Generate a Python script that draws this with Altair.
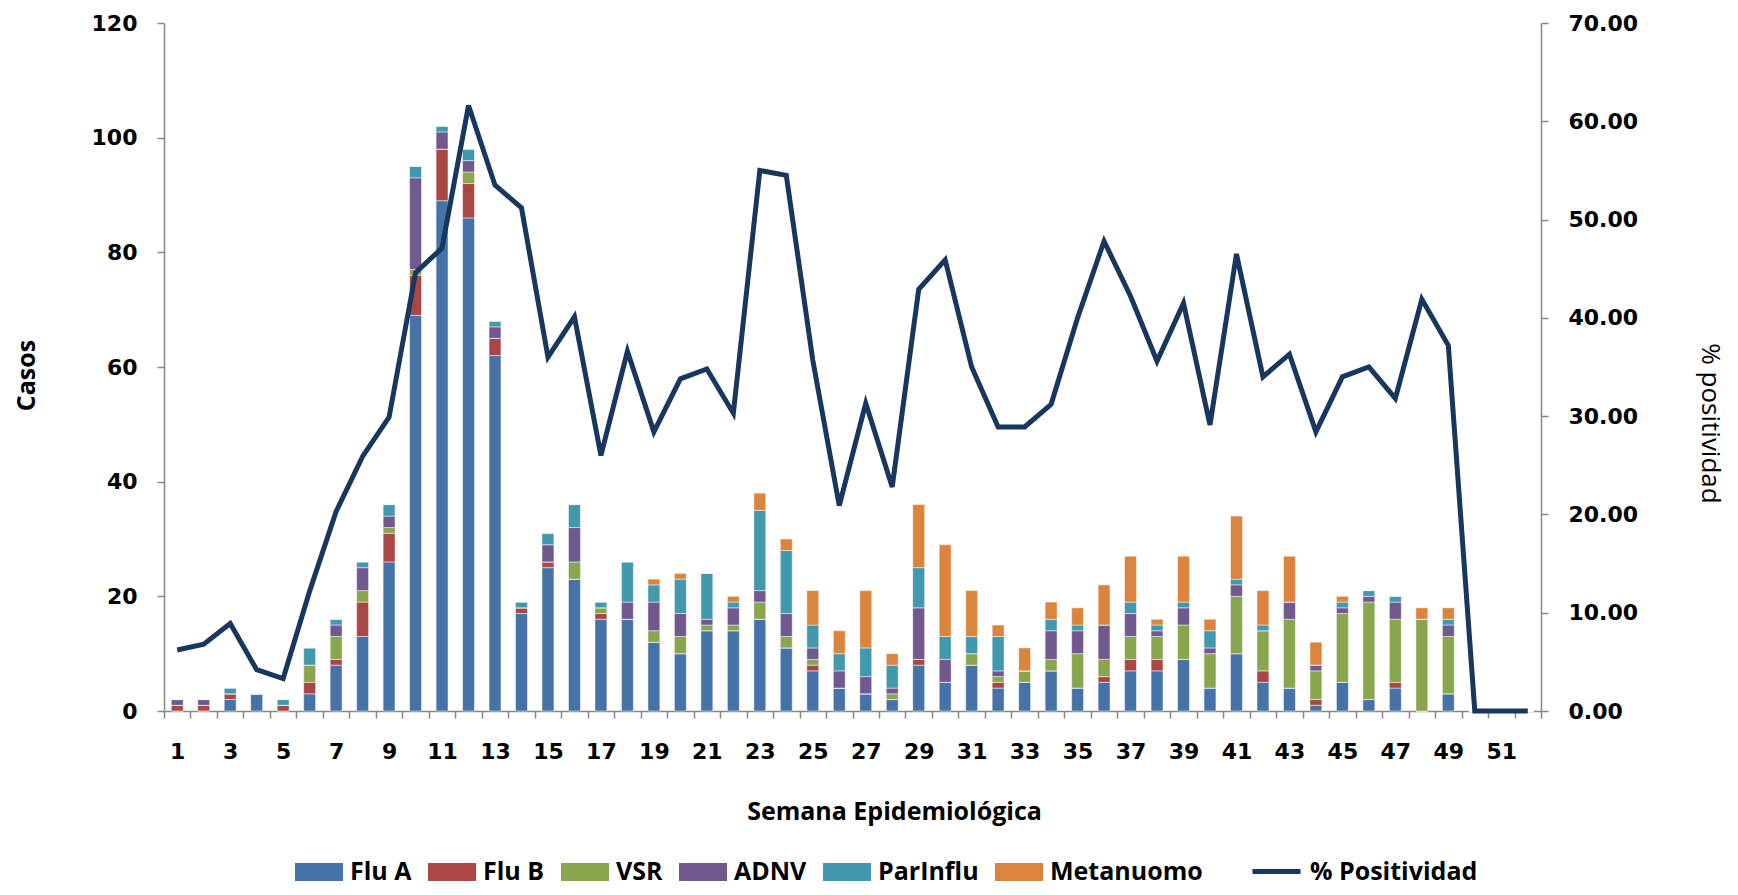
import altair as alt
import pandas as pd

weeks = list(range(1, 53))

flu_a = [0, 0, 2, 3, 0, 3, 8, 13, 26, 69, 89, 86, 62, 17, 25, 23, 16, 16, 12, 10,
         14, 14, 16, 11, 7, 4, 3, 2, 8, 5, 8, 4, 5, 7, 4, 5, 7, 7, 9, 4,
         10, 5, 4, 1, 5, 2, 4, 0, 3, 0, 0, 0]
flu_b = [1, 1, 1, 0, 1, 2, 1, 6, 5, 7, 9, 6, 3, 1, 1, 0, 1, 0, 0, 0,
         0, 0, 0, 0, 1, 0, 0, 0, 1, 0, 0, 1, 0, 0, 0, 1, 2, 2, 0, 0,
         0, 2, 0, 1, 0, 0, 1, 0, 0, 0, 0, 0]
vsr = [0, 0, 0, 0, 0, 3, 4, 2, 1, 1, 0, 2, 0, 0, 0, 3, 1, 0, 2, 3,
       1, 1, 3, 2, 1, 0, 0, 1, 0, 0, 2, 1, 2, 2, 6, 3, 4, 4, 6, 6,
       10, 7, 12, 5, 12, 17, 11, 16, 10, 0, 0, 0]
adnv = [1, 1, 0, 0, 0, 0, 2, 4, 2, 16, 3, 2, 2, 0, 3, 6, 0, 3, 5, 4,
        1, 3, 2, 4, 2, 3, 3, 1, 9, 4, 0, 1, 0, 5, 4, 6, 4, 1, 3, 1,
        2, 0, 3, 1, 1, 1, 3, 0, 2, 0, 0, 0]
parinflu = [0, 0, 1, 0, 1, 3, 1, 1, 2, 2, 1, 2, 1, 1, 2, 4, 1, 7, 3, 6,
            8, 1, 14, 11, 4, 3, 5, 4, 7, 4, 3, 6, 0, 2, 1, 0, 2, 1, 1, 3,
            1, 1, 0, 0, 1, 1, 1, 0, 1, 0, 0, 0]
metanuomo = [0, 0, 0, 0, 0, 0, 0, 0, 0, 0, 0, 0, 0, 0, 0, 0, 0, 0, 1, 1,
             0, 1, 3, 2, 6, 4, 10, 2, 11, 16, 8, 2, 4, 3, 3, 7, 8, 1, 8, 2,
             11, 6, 8, 4, 1, 0, 0, 2, 2, 0, 0, 0]
positividad = [6.2, 6.8, 8.9, 4.2, 3.3, 12.2, 20.3, 25.9, 29.9, 44.6,
               47.1, 61.6, 53.5, 51.2, 36.0, 40.1, 26.0, 36.6, 28.4, 33.8,
               34.8, 30.3, 55.0, 54.5, 35.7, 20.9, 31.3, 22.8, 42.9, 45.9,
               35.0, 28.9, 28.9, 31.2, 40.0, 47.8, 42.2, 35.6, 41.5, 29.1,
               46.5, 34.0, 36.3, 28.4, 34.0, 35.0, 31.8, 41.9, 37.2, 0.0,
               0.0, 0.0]

series_names = ["Flu A", "Flu B", "VSR", "ADNV", "ParInflu", "Metanuomo"]
series_colors = ["#4572A7", "#AA4643", "#89A54E", "#71588F", "#4198AF", "#DB843D"]
line_name = "% Positividad"
line_color = "#17375E"

rows = []
for order, (name, vals) in enumerate(zip(series_names, [flu_a, flu_b, vsr, adnv, parinflu, metanuomo])):
    for w, v in zip(weeks, vals):
        rows.append({"semana": w, "virus": name, "orden": order, "casos": v})
bars_df = pd.DataFrame(rows)
line_df = pd.DataFrame({"semana": weeks, "positividad": positividad, "serie": line_name})

W, H = 1377, 688
axis_gray = "#868686"
x_scale = alt.Scale(domain=weeks, paddingInner=0, paddingOuter=0)

x_axis = alt.Axis(
    labelExpr="datum.value % 2 == 1 ? datum.label : ''",
    labelAngle=0,
    labelOverlap=False,
    labelPadding=23,
    labelBaseline="top",
    tickBand="extent",
    tickSize=7,
    title="Semana Epidemiológica",
    titleFont="Open Sans",
    titleFontSize=25,
    titleFontWeight="bold",
    titleX=730,
    titleY=100,
    titleAlign="center",
    titleBaseline="middle",
)

bars = alt.Chart(bars_df).mark_bar(
    width=alt.RelativeBandSize(0.45), stroke="white", strokeWidth=0.6, strokeOpacity=0.8
).encode(
    x=alt.X("semana:O", scale=x_scale, axis=x_axis),
    y=alt.Y(
        "sum(casos):Q",
        stack="zero",
        scale=alt.Scale(domain=[0, 120], nice=False),
        axis=alt.Axis(
            values=[0, 20, 40, 60, 80, 100, 120],
            tickSize=7,
            labelPadding=20,
            title="Casos",
            titleFont="Open Sans",
            titleFontSize=25,
            titleFontWeight="bold",
            titleX=-138,
            titleY=352,
            titleAlign="center",
            titleBaseline="middle",
        ),
    ),
    color=alt.Color(
        "virus:N",
        scale=alt.Scale(domain=series_names, range=series_colors),
        legend=alt.Legend(
            title=None,
            orient="none",
            direction="horizontal",
            legendX=131,
            legendY=825,
            symbolType="M-1,-0.375H1V0.375H-1Z",
            symbolSize=2304,
            symbolStrokeWidth=0,
            symbolOpacity=1,
            labelOffset=7,
            labelLimit=400,
            columnPadding=16,
            padding=0,
        ),
    ),
    order=alt.Order("orden:Q", sort="ascending"),
)

line = alt.Chart(line_df).mark_line(strokeWidth=5).encode(
    x=alt.X("semana:O", scale=x_scale),
    y=alt.Y(
        "positividad:Q",
        scale=alt.Scale(domain=[0, 70], nice=False),
        axis=alt.Axis(
            orient="right",
            values=[0, 10, 20, 30, 40, 50, 60, 70],
            format=".2f",
            tickSize=7,
            labelPadding=20,
            title="% positividad",
            titleFont="Open Sans",
            titleFontSize=26,
            titleFontWeight="normal",
            titleX=168,
            titleY=400,
            titleAlign="center",
            titleBaseline="middle",
        ),
    ),
    stroke=alt.Stroke(
        "serie:N",
        scale=alt.Scale(domain=[line_name], range=[line_color]),
        legend=alt.Legend(
            title=None,
            orient="none",
            legendX=1086,
            legendY=822,
            symbolType="stroke",
            symbolSize=2304,
            symbolStrokeWidth=5,
            labelOffset=7,
            labelLimit=400,
            padding=0,
        ),
    ),
)

chart = (
    alt.layer(bars, line)
    .resolve_scale(y="independent", color="independent", stroke="independent")
    .properties(
        width=W,
        height=H,
        padding={"left": 156, "top": 15, "right": 189, "bottom": 176},
        autosize=alt.AutoSizeParams(type="none"),
    )
    .configure_view(stroke=None)
    .configure_axis(
        labelFont="DejaVu Sans",
        labelFontWeight="bold",
        labelFontSize=22,
        labelColor="black",
        titleColor="black",
        domainColor=axis_gray,
        domainWidth=1.5,
        tickColor=axis_gray,
        tickWidth=1.5,
        grid=False,
    )
    .configure_legend(
        labelFont="Open Sans",
        labelFontWeight="bold",
        labelFontSize=25,
        labelColor="black",
    )
)

chart.save("out.html", embed_options={"renderer": "svg", "actions": False})
